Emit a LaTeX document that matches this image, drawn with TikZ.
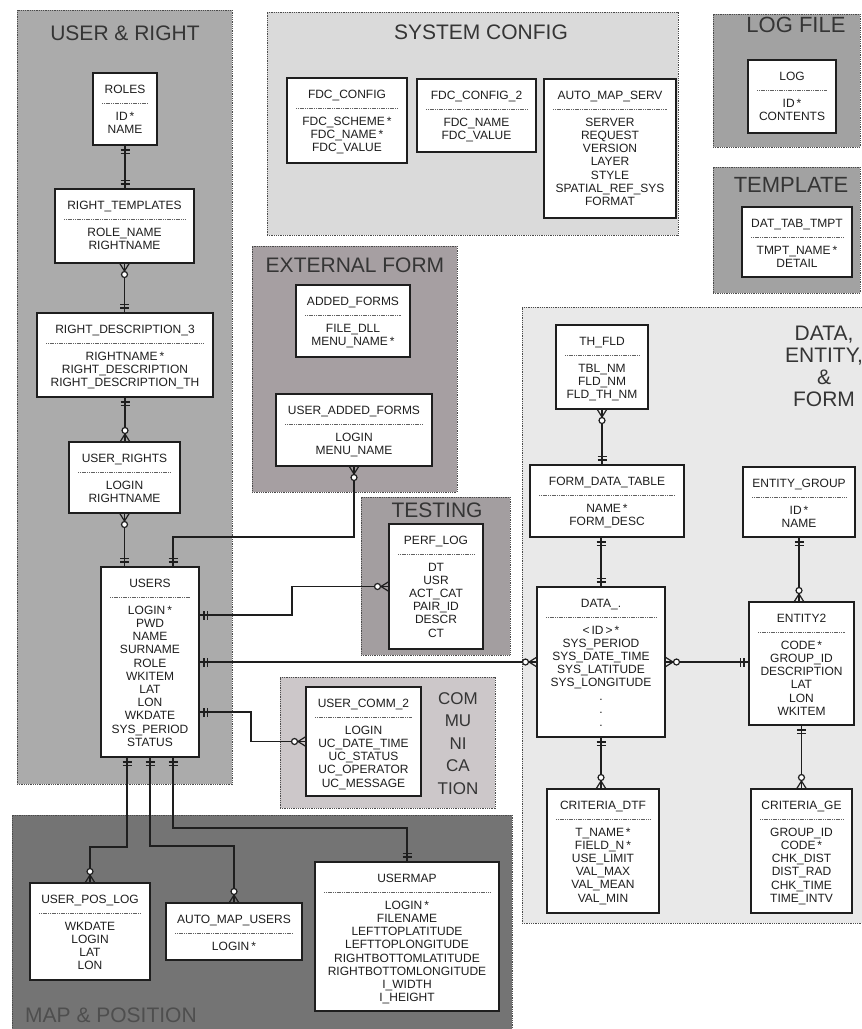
\documentclass[tikz,border=0pt]{standalone}
\usepackage{fontspec}
\setmainfont{Liberation Sans}
\usetikzlibrary{decorations.markings}

\definecolor{urfill}{HTML}{ABABAB}
\definecolor{scfill}{HTML}{DADADA}
\definecolor{lffill}{HTML}{A2A2A2}
\definecolor{effill}{HTML}{A69FA2}
\definecolor{tsfill}{HTML}{A39EA0}
\definecolor{cmfill}{HTML}{CCC7C9}
\definecolor{mpfill}{HTML}{747474}
\definecolor{defill}{HTML}{E9E9E9}
\definecolor{ink}{HTML}{1E1E1E}
\definecolor{titleink}{HTML}{353535}
\definecolor{mapink}{HTML}{4E4E4E}

\tikzset{
  grp/.style={draw=ink!80, line width=0.8pt, dash pattern=on 1pt off 0.8pt, inner sep=0pt, outer sep=0pt},
  grptitle/.style={font=\fontsize{21}{22}\selectfont, text=titleink, inner sep=0pt, align=center},
  tbl/.style={draw=ink, fill=white, line width=1.8pt, inner sep=0pt, outer sep=0pt},
  tbltitle/.style={font=\fontsize{12}{13.2}\selectfont, text=ink, inner sep=0pt, anchor=base},
  tblfields/.style={font=\fontsize{12}{13.2}\selectfont, text=ink, inner sep=0pt, anchor=north, align=center},
  sepline/.style={draw=ink!70, line width=0.7pt, dash pattern=on 1.2pt off 0.6pt},
  conn/.style={draw=ink, line width=1.7pt},
  mk/.style={draw=ink, line width=1.2pt},
  one start/.style={postaction={decorate, decoration={markings, mark=at position 0 with {\draw[mk] (5pt,-4.5pt)--(5pt,4.5pt) (8.5pt,-4.5pt)--(8.5pt,4.5pt);}}}},
  one end/.style={postaction={decorate, decoration={markings, mark=at position 1 with {\draw[mk] (-5pt,-4.5pt)--(-5pt,4.5pt) (-8.5pt,-4.5pt)--(-8.5pt,4.5pt);}}}},
  many start/.style={postaction={decorate, decoration={markings, mark=at position 0 with {\draw[mk] (0pt,-5pt)--(8pt,0pt)--(0pt,5pt); \draw[mk, fill=white] (11.5pt,0pt) circle (3pt);}}}},
  many end/.style={postaction={decorate, decoration={markings, mark=at position 1 with {\draw[mk] (0pt,-5pt)--(-8pt,0pt)--(0pt,5pt); \draw[mk, fill=white] (-11.5pt,0pt) circle (3pt);}}}},
}

% group panel: name, x1, y1, x2, y2, fill colour
\newcommand\grpbox[6]{%
  \node[grp, fill=#6, minimum width={(#4-#2)*1pt}, minimum height={(#5-#3)*1pt}] (#1) at ({(#2+#4)/2},{(#3+#5)/2}) {};}

% table box: name, x1, y1, x2, y2, title, fields
\newcommand\dbtable[7]{%
  \node[tbl, minimum width={(#4-#2)*1pt}, minimum height={(#5-#3)*1pt}] (#1) at ({(#2+#4)/2},{(#3+#5)/2}) {};
  \node[tbltitle] (#1-t) at ([yshift=-20pt]#1.north) {#6};
  \draw[sepline] ([xshift=9pt,yshift=-30pt]#1.north west) -- ([xshift=-9pt,yshift=-30pt]#1.north east);
  \node[tblfields] (#1-f) at ([yshift=-38.7pt]#1.north) {#7};}

\begin{document}
\begin{tikzpicture}[x=1pt, y=-1pt]
\fill[white] (0,0) rectangle (862,1029);
\useasboundingbox (0,0) rectangle (862,1029);

% panels
\grpbox{g-ur}{17}{10}{232}{784}{urfill}
\grpbox{g-sc}{267}{12}{678}{235}{scfill}
\grpbox{g-lf}{713}{14}{860}{147}{lffill}
\grpbox{g-tp}{713}{167}{860}{293}{lffill}
\grpbox{g-ef}{252}{246}{457}{492}{effill}
\grpbox{g-ts}{361}{497}{510}{655}{tsfill}
\grpbox{g-cm}{280}{677}{495}{808}{cmfill}
\grpbox{g-mp}{12}{815}{512}{1034}{mpfill}
\grpbox{g-de}{522}{307}{868}{923}{defill}

% panel titles
\node[grptitle] (l-ur) at (125,33) {USER \& RIGHT};
\node[grptitle] (l-sc) at (481,32) {SYSTEM CONFIG};
\node[grptitle, font=\fontsize{22}{22}\selectfont] (l-lf) at (796,25) {LOG FILE};
\node[grptitle, font=\fontsize{22}{22}\selectfont] (l-tp) at (791,185) {TEMPLATE};
\node[grptitle] (l-ef) at (355,265) {EXTERNAL FORM};
\node[grptitle] (l-ts) at (437,510) {TESTING};
\node[grptitle, font=\fontsize{17}{22.5}\selectfont, anchor=north] (l-cm) at (458,692) {COM\\MU\\NI\\CA\\TION};
\node[grptitle, anchor=north] (l-de) at (824,325.5) {DATA,\\ENTITY,\\\&\\FORM};
\node[grptitle, text=mapink, anchor=west] (l-mp) at (25,1015) {MAP \& POSITION};

% tables
\dbtable{roles}{93}{73}{157}{145}{ROLES}{ID\,*\\NAME}
\dbtable{rtpl}{55}{189}{194}{263}{RIGHT\_TEMPLATES}{ROLE\_NAME\\RIGHTNAME}
\dbtable{rdesc}{37}{313}{213}{397}{RIGHT\_DESCRIPTION\_3}{RIGHTNAME\,*\\RIGHT\_DESCRIPTION\\RIGHT\_DESCRIPTION\_TH}
\dbtable{urights}{69}{442}{180}{513}{USER\_RIGHTS}{LOGIN\\RIGHTNAME}
\dbtable{users}{101}{567}{199}{757}{USERS}{LOGIN\,*\\PWD\\NAME\\SURNAME\\ROLE\\WKITEM\\LAT\\LON\\WKDATE\\SYS\_PERIOD\\STATUS}
\dbtable{fdc}{287}{78}{407}{163}{FDC\_CONFIG}{FDC\_SCHEME\,*\\FDC\_NAME\,*\\FDC\_VALUE}
\dbtable{fdc2}{417}{79}{536}{152}{FDC\_CONFIG\_2}{FDC\_NAME\\FDC\_VALUE}
\dbtable{ams}{544}{79}{676}{218}{AUTO\_MAP\_SERV}{SERVER\\REQUEST\\VERSION\\LAYER\\STYLE\\SPATIAL\_REF\_SYS\\FORMAT}
\dbtable{log}{748}{60}{836}{133}{LOG}{ID\,*\\CONTENTS}
\dbtable{dtt}{742}{207}{852}{277}{DAT\_TAB\_TMPT}{TMPT\_NAME\,*\\DETAIL}
\dbtable{af}{296}{285}{410}{357}{ADDED\_FORMS}{FILE\_DLL\\MENU\_NAME\,*}
\dbtable{uaf}{276}{394}{432}{466}{USER\_ADDED\_FORMS}{LOGIN\\MENU\_NAME}
\dbtable{perf}{389}{524}{483}{649}{PERF\_LOG}{DT\\USR\\ACT\_CAT\\PAIR\_ID\\DESCR\\CT}
\dbtable{ucomm}{306}{687}{421}{796}{USER\_COMM\_2}{LOGIN\\UC\_DATE\_TIME\\UC\_STATUS\\UC\_OPERATOR\\UC\_MESSAGE}
\dbtable{thfld}{556}{325}{648}{409}{TH\_FLD}{TBL\_NM\\FLD\_NM\\FLD\_TH\_NM}
\dbtable{fdt}{530}{465}{684}{537}{FORM\_DATA\_TABLE}{NAME\,*\\FORM\_DESC}
\dbtable{eg}{743}{467}{855}{537}{ENTITY\_GROUP}{ID\,*\\NAME}
\dbtable{data}{537}{587}{665}{737}{DATA\_.}{<\,ID\,>\,*\\SYS\_PERIOD\\SYS\_DATE\_TIME\\SYS\_LATITUDE\\SYS\_LONGITUDE\\.\\.\\.}
\dbtable{ent2}{749}{602}{854}{725}{ENTITY2}{CODE\,*\\GROUP\_ID\\DESCRIPTION\\LAT\\LON\\WKITEM}
\dbtable{cdtf}{547}{789}{659}{913}{CRITERIA\_DTF}{T\_NAME\,*\\FIELD\_N\,*\\USE\_LIMIT\\VAL\_MAX\\VAL\_MEAN\\VAL\_MIN}
\dbtable{cge}{751}{789}{852}{913}{CRITERIA\_GE}{GROUP\_ID\\CODE\,*\\CHK\_DIST\\DIST\_RAD\\CHK\_TIME\\TIME\_INTV}
\dbtable{upl}{30}{883}{150}{980}{USER\_POS\_LOG}{WKDATE\\LOGIN\\LAT\\LON}
\dbtable{amu}{166}{903}{302}{960}{AUTO\_MAP\_USERS}{LOGIN\,*}
\dbtable{umap}{315}{862}{499}{1011}{USERMAP}{LOGIN\,*\\FILENAME\\LEFTTOPLATITUDE\\LEFTTOPLONGITUDE\\RIGHTBOTTOMLATITUDE\\RIGHTBOTTOMLONGITUDE\\I\_WIDTH\\I\_HEIGHT}

% bend levels
\coordinate (k-uaf) at (0,537);

% relationships
\draw[conn, one start, one end] (roles.south) -- (roles.south |- rtpl.north);
\draw[conn, many start, one end] (rtpl.south) -- (rtpl.south |- rdesc.north);
\draw[conn, one start, many end] (rdesc.south) -- (rdesc.south |- urights.north);
\draw[conn, many start, one end] (urights.south) -- (urights.south |- users.north);
\draw[conn, many start, one end] (uaf.south) -- (uaf.south |- k-uaf) -| ([xshift=23pt]users.north);
\draw[conn, one start, many end] ([yshift=-48pt]users.north east) -- ++(93,0) |- (perf.west);
\draw[conn, one start, many end] ([yshift=-95pt]users.north east) -- (data.west);
\draw[conn, one start, many end] ([yshift=-145pt]users.north east) -- ++(52,0) |- (ucomm.west);
\draw[conn, many start, one end] (data.east) -- (data.east -| ent2.west);
\draw[conn, many start, one end] (thfld.south) -- (thfld.south |- fdt.north);
\draw[conn, one start, one end] (data.north |- fdt.south) -- (data.north);
\draw[conn, one start, many end] (eg.south) -- (eg.south |- ent2.north);
\draw[conn, one start, many end] (data.south) -- (data.south |- cdtf.north);
\draw[conn, one start, many end] (ent2.south) -- (cge.north);
\draw[conn, one start, many end] ([xshift=-23pt]users.south) -- ++(0,90) -| (upl.north);
\draw[conn, one start, many end] (users.south) -- ++(0,89) -| (amu.north);
\draw[conn, one start, one end] ([xshift=23pt]users.south) -- ++(0,71) -| (umap.north);
\end{tikzpicture}
\end{document}
